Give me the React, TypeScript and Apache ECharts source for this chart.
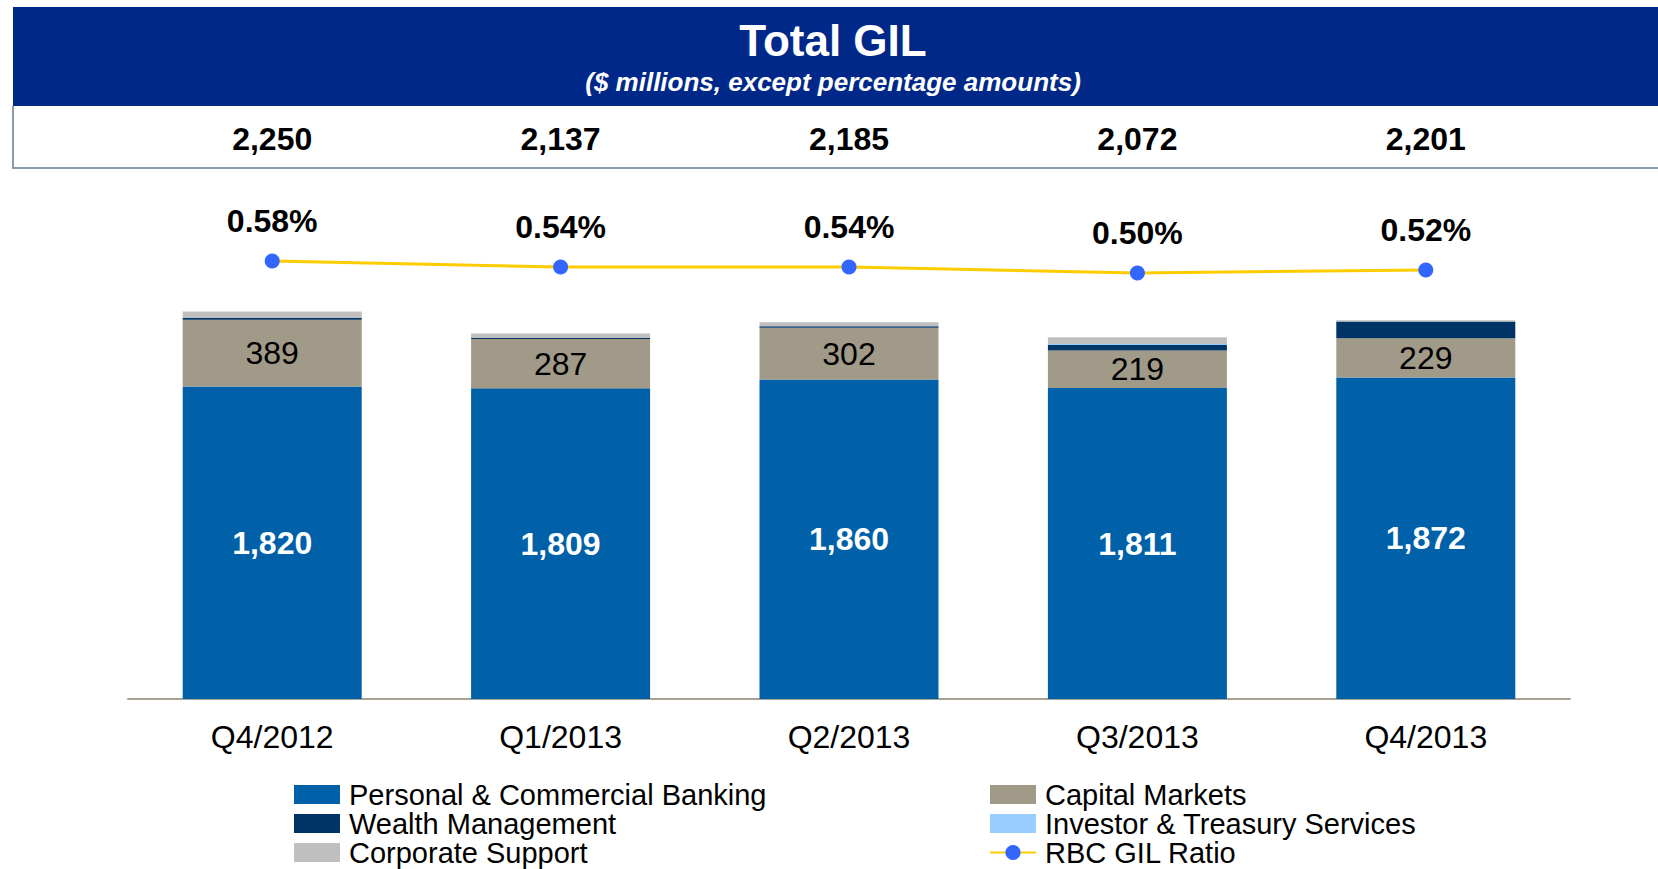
import React, { useEffect, useRef } from "react";
import * as echarts from "echarts";

const categories = ["Q4/2012", "Q1/2013", "Q2/2013", "Q3/2013", "Q4/2013"];
const totals = ["2,250", "2,137", "2,185", "2,072", "2,201"];
const pcb = [1820, 1809, 1860, 1811, 1872];
const capitalMarkets = [389, 287, 302, 219, 229];
const wealthMgmt = [9, 6, 9, 31, 97];
const investorTreasury = [0, 0, 0, 6, 0];
const corporateSupport = [38, 27, 23, 39, 8];
const gilRatio = [0.58, 0.54, 0.54, 0.5, 0.52];

const FONT = "'Liberation Sans', Arial, sans-serif";

export default function App() {
  const ref = useRef<HTMLDivElement>(null);

  useEffect(() => {
    document.body.style.margin = "0";
    document.body.style.overflow = "hidden";
    if (!ref.current) return;
    const chart = echarts.init(ref.current, undefined, { renderer: "svg" });

    const barBase = {
      type: "bar" as const,
      stack: "gil",
      barWidth: 179,
      xAxisIndex: 0,
      yAxisIndex: 0,
    };

    const legendText = {
      fontSize: 29,
      color: "#000",
      lineHeight: 29,
      padding: [0, 0, 0, 4],
      fontFamily: FONT,
    };

    chart.setOption({
      animation: false,
      backgroundColor: "#ffffff",
      textStyle: { fontFamily: FONT },
      grid: { left: 128, right: 88, top: 201, bottom: 170 },
      xAxis: [
        {
          type: "category",
          data: categories,
          position: "bottom",
          axisLine: { show: true, lineStyle: { color: "#A8A294", width: 2 } },
          axisTick: { show: false },
          axisLabel: { fontSize: 32, color: "#000", margin: 22, fontFamily: FONT },
        },
        {
          type: "category",
          data: totals,
          position: "top",
          axisLine: { show: false },
          axisTick: { show: false },
          axisLabel: {
            fontSize: 32,
            fontWeight: "bold",
            color: "#000",
            margin: 46,
            fontFamily: FONT,
          },
        },
      ],
      yAxis: [
        { type: "value", min: 0, max: 2900, show: false, splitLine: { show: false } },
        { type: "value", min: -2.34, max: 0.98, show: false, splitLine: { show: false } },
      ],
      legend: [
        {
          orient: "vertical",
          left: 294,
          top: 780,
          height: 100,
          padding: 0,
          itemWidth: 46,
          itemHeight: 19,
          itemGap: 0,
          icon: "rect",
          textStyle: legendText,
          data: ["Personal & Commercial Banking", "Wealth Management", "Corporate Support"],
        },
        {
          orient: "vertical",
          left: 989,
          top: 780,
          height: 100,
          padding: 0,
          itemWidth: 46,
          itemHeight: 19,
          itemGap: 0,
          textStyle: legendText,
          data: [
            { name: "Capital Markets", icon: "rect" },
            { name: "Investor & Treasury Services", icon: "rect" },
            { name: "RBC GIL Ratio" },
          ],
        },
      ],
      graphic: [
        {
          type: "rect",
          shape: { x: 13, y: 7, width: 1660, height: 99 },
          style: { fill: "#002888" },
        },
        {
          type: "polyline",
          shape: { points: [[13, 106], [13, 168], [1660, 168]] },
          style: { stroke: "#8C9BA5", lineWidth: 2, fill: null },
        },
        {
          type: "text",
          x: 833,
          y: 40,
          style: {
            text: "Total GIL",
            fill: "#ffffff",
            fontSize: 44,
            fontWeight: "bold",
            fontFamily: FONT,
            align: "center",
            verticalAlign: "middle",
          },
        },
        {
          type: "text",
          x: 833,
          y: 82,
          style: {
            text: "($ millions, except percentage amounts)",
            fill: "#ffffff",
            fontSize: 26,
            fontWeight: "bold",
            fontStyle: "italic",
            fontFamily: FONT,
            align: "center",
            verticalAlign: "middle",
          },
        },
      ],
      series: [
        {
          ...barBase,
          name: "Personal & Commercial Banking",
          data: pcb,
          itemStyle: { color: "#0060A8" },
          label: {
            show: true,
            position: "inside",
            color: "#ffffff",
            fontSize: 32,
            fontWeight: "bold",
            fontFamily: FONT,
            formatter: (p: any) => Number(p.value).toLocaleString("en-US"),
          },
        },
        {
          ...barBase,
          name: "Capital Markets",
          data: capitalMarkets,
          itemStyle: { color: "#A19A89" },
          label: {
            show: true,
            position: "inside",
            color: "#000000",
            fontSize: 32,
            fontFamily: FONT,
          },
        },
        {
          ...barBase,
          name: "Wealth Management",
          data: wealthMgmt,
          itemStyle: { color: "#003366" },
        },
        {
          ...barBase,
          name: "Investor & Treasury Services",
          data: investorTreasury,
          itemStyle: { color: "#99CCFF" },
        },
        {
          ...barBase,
          name: "Corporate Support",
          data: corporateSupport,
          itemStyle: { color: "#BFBFBF" },
        },
        {
          type: "line",
          name: "RBC GIL Ratio",
          xAxisIndex: 0,
          yAxisIndex: 1,
          data: gilRatio,
          symbol: "circle",
          symbolSize: 15,
          lineStyle: { color: "#FFCC00", width: 3 },
          itemStyle: { color: "#3366FF" },
          label: {
            show: true,
            position: "top",
            distance: 17,
            color: "#000",
            fontSize: 32,
            fontWeight: "bold",
            fontFamily: FONT,
            formatter: (p: any) => Number(p.value).toFixed(2) + "%",
          },
          z: 5,
        },
      ],
    });

    return () => chart.dispose();
  }, []);

  return <div ref={ref} style={{ width: 1658, height: 869 }} />;
}
